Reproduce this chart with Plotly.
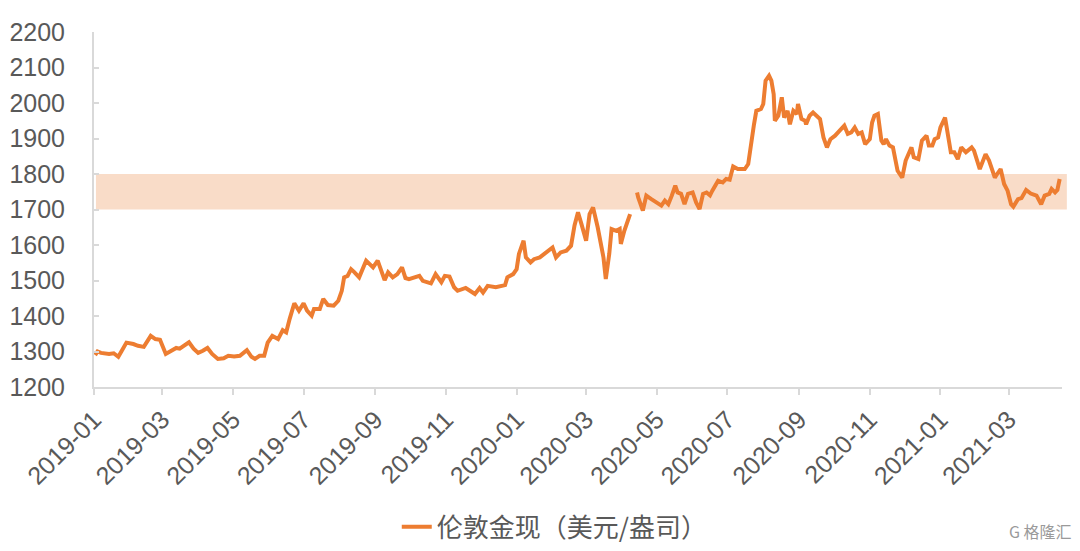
import plotly.graph_objects as go

dates = [
    "2019-01-02", "2019-01-04", "2019-01-07", "2019-01-09", "2019-01-14", "2019-01-18", "2019-01-22",
    "2019-01-25", "2019-01-29", "2019-02-04", "2019-02-08", "2019-02-13", "2019-02-19", "2019-02-23",
    "2019-02-27", "2019-03-04", "2019-03-08", "2019-03-13", "2019-03-16", "2019-03-19", "2019-03-24",
    "2019-03-28", "2019-04-01", "2019-04-05", "2019-04-09", "2019-04-13", "2019-04-18", "2019-04-23",
    "2019-04-27", "2019-05-02", "2019-05-07", "2019-05-13", "2019-05-17", "2019-05-20", "2019-05-24",
    "2019-05-28", "2019-05-31", "2019-06-04", "2019-06-09", "2019-06-13", "2019-06-16", "2019-06-19",
    "2019-06-23", "2019-06-27", "2019-07-01", "2019-07-04", "2019-07-08", "2019-07-10", "2019-07-15",
    "2019-07-18", "2019-07-22", "2019-07-27", "2019-07-31", "2019-08-03", "2019-08-05", "2019-08-08",
    "2019-08-11", "2019-08-14", "2019-08-18", "2019-08-24", "2019-08-27", "2019-08-30", "2019-09-03",
    "2019-09-06", "2019-09-09", "2019-09-12", "2019-09-16", "2019-09-20", "2019-09-24", "2019-09-27",
    "2019-09-30", "2019-10-09", "2019-10-12", "2019-10-19", "2019-10-23", "2019-10-28", "2019-10-31",
    "2019-11-04", "2019-11-08", "2019-11-11", "2019-11-18", "2019-11-26", "2019-11-30", "2019-12-03",
    "2019-12-07", "2019-12-14", "2019-12-22", "2019-12-24", "2019-12-29",
    "2020-01-01", "2020-01-03", "2020-01-07", "2020-01-09", "2020-01-13", "2020-01-16", "2020-01-21",
    "2020-01-26", "2020-02-01", "2020-02-04", "2020-02-08", "2020-02-13", "2020-02-17", "2020-02-20",
    "2020-02-23", "2020-02-26", "2020-03-01", "2020-03-04", "2020-03-07", "2020-03-11", "2020-03-14",
    "2020-03-16", "2020-03-18", "2020-03-21", "2020-03-23", "2020-03-27", "2020-03-30", "2020-03-31",
    "2020-04-03", "2020-04-06", "2020-04-08", "2020-04-10", "2020-04-14", "2020-04-15", "2020-04-19",
    "2020-04-22", "2020-04-26", "2020-04-30", "2020-05-05", "2020-05-08", "2020-05-11", "2020-05-14",
    "2020-05-17", "2020-05-19", "2020-05-22", "2020-05-25", "2020-05-28", "2020-06-01", "2020-06-04",
    "2020-06-07", "2020-06-10", "2020-06-13", "2020-06-16", "2020-06-18", "2020-06-23", "2020-06-27",
    "2020-06-30", "2020-07-03", "2020-07-06", "2020-07-10", "2020-07-16", "2020-07-19", "2020-07-22",
    "2020-07-24", "2020-07-26", "2020-07-30", "2020-08-01", "2020-08-03", "2020-08-06", "2020-08-08",
    "2020-08-10", "2020-08-11", "2020-08-14", "2020-08-17", "2020-08-19", "2020-08-22", "2020-08-24",
    "2020-08-27", "2020-08-30", "2020-08-31", "2020-09-03", "2020-09-06", "2020-09-07", "2020-09-10",
    "2020-09-13", "2020-09-16", "2020-09-19", "2020-09-22", "2020-09-25", "2020-09-28", "2020-10-02",
    "2020-10-06", "2020-10-10", "2020-10-13", "2020-10-16", "2020-10-19", "2020-10-22", "2020-10-25",
    "2020-10-28", "2020-11-01", "2020-11-03", "2020-11-05", "2020-11-08", "2020-11-11", "2020-11-13",
    "2020-11-15", "2020-11-18", "2020-11-21", "2020-11-24", "2020-11-25", "2020-11-29", "2020-12-02",
    "2020-12-07", "2020-12-09", "2020-12-13", "2020-12-16", "2020-12-20", "2020-12-22", "2020-12-25",
    "2020-12-27", "2020-12-30",
    "2021-01-01", "2021-01-05", "2021-01-07", "2021-01-10", "2021-01-13", "2021-01-16", "2021-01-19",
    "2021-01-23", "2021-01-28", "2021-01-30", "2021-02-04", "2021-02-06", "2021-02-09", "2021-02-12",
    "2021-02-17", "2021-02-19", "2021-02-22", "2021-02-25", "2021-02-28", "2021-03-03", "2021-03-05",
    "2021-03-09", "2021-03-12", "2021-03-16", "2021-03-20", "2021-03-25", "2021-03-29", "2021-04-01",
    "2021-04-05", "2021-04-07", "2021-04-10", "2021-04-12", "2021-04-14",
]

gold_price = [
    1290, 1300, 1296, 1295, 1293, 1295, 1285,
    1302, 1325, 1321, 1316, 1313, 1344, 1335,
    1333, 1293, 1300, 1310, 1308, 1316, 1326,
    1308, 1296, 1302, 1310, 1293, 1279, 1281,
    1288, 1286, 1288, 1304, 1285, 1279, 1288,
    1288, 1325, 1344, 1335, 1360, 1354, 1392,
    1436, 1415, 1436, 1415, 1401, 1420, 1420,
    1448, 1431, 1429, 1443, 1471, 1509, 1513,
    1532, 1523, 1509, 1556, 1546, 1537, 1556,
    1528, 1501, 1523, 1509, 1518, 1537, 1507,
    1504, 1513, 1499, 1492, 1518, 1495, 1513,
    1511, 1481, 1471, 1479, 1462, 1479, 1466,
    1485, 1481, 1487, 1509, 1518,
    1532, 1575, 1612, 1565, 1551, 1560, 1565,
    1579, 1593, 1565, 1579, 1584, 1598, 1655,
    1692, 1659, 1612, 1687, 1706, 1650, 1589,
    1565, 1504, 1575, 1645, 1640, 1645, 1603,
    1640, 1668, 1687, None, 1748, 1734, 1697,
    1739, 1730, 1720, 1711, 1725, 1715, 1739,
    1767, 1748, 1744, 1715, 1744, 1748, 1720,
    1701, 1744, 1748, 1740, 1753, 1781, 1776,
    1786, 1784, 1821, 1814, 1814, 1828, 1903,
    1940, 1978, 1983, 1997, 2063, 2077, 2063,
    2025, 1950, 1964, 2016, 1959, 1978, 1940,
    1978, 1969, 1997, 1955, 1950, 1940, 1964,
    1973, 1964, 1955, 1903, 1875, 1898, 1908,
    1922, 1936, 1913, 1917, 1931, 1913, 1917,
    1884, 1898, 1945, 1964, 1969, 1894, 1884,
    1898, 1880, 1875, 1828, 1809, 1790, 1838,
    1875, 1847, 1842, 1894, 1908, 1880, 1880,
    1898, 1903,
    1931, 1959, 1913, 1861, 1861, 1842, 1875,
    1861, 1875, 1866, 1814, 1833, 1856, 1838,
    1790, 1800, 1814, 1772, 1753, 1715, 1708,
    1729, 1732, 1755, 1745, 1739, 1715, 1739,
    1744, 1758, 1748, 1755, 1786,
]

series_name = "伦敦金现（美元/盎司）"
band_low, band_high = 1700, 1800
y_ticks = list(range(1200, 2201, 100))

ORANGE = "#ED7D31"
BAND = "#F9DCC8"
AXIS = "#D9D9D9"
TEXT = "#595959"
FONT = "Liberation Sans, Arial, Noto Sans CJK SC, sans-serif"

fig = go.Figure()
fig.add_trace(go.Scatter(
    x=dates, y=gold_price, mode="lines", name=series_name,
    line=dict(color=ORANGE, width=4), connectgaps=False,
))

fig.add_shape(type="rect", xref="paper", yref="y", x0=0.002, x1=1.005,
              y0=band_low, y1=band_high, fillcolor=BAND, line=dict(width=0), layer="below")

fig.add_annotation(text="G 格隆汇", xref="paper", yref="paper", x=1.012, y=-0.405,
                   showarrow=False, font=dict(family="Noto Sans CJK SC", size=16, color="#9A9A9A"),
                   xanchor="right", yanchor="middle")

fig.update_layout(
    width=1080, height=551,
    margin=dict(l=94, r=18, t=32, b=164, autoexpand=False),
    paper_bgcolor="white", plot_bgcolor="white",
    font=dict(family=FONT, size=25, color=TEXT),
    showlegend=True,
    legend=dict(orientation="h", x=0.476, xanchor="center", y=-0.394, yanchor="middle",
                font=dict(family="Noto Sans CJK SC, sans-serif", size=26, color=TEXT),
                bgcolor="rgba(0,0,0,0)"),
    xaxis=dict(
        type="date", range=["2019-01-01", "2021-04-16"], automargin=False,
        tick0="2019-01-01", dtick="M2", tickformat="%Y-%m", tickangle=-45,
        showgrid=False, zeroline=False,
        showline=True, linecolor=AXIS, linewidth=2,
        ticks="outside", ticklen=6, tickcolor=AXIS, tickwidth=1.5,
        tickfont=dict(family=FONT, size=25, color=TEXT),
    ),
    yaxis=dict(
        range=[1200, 2200], tickvals=y_ticks, automargin=False,
        showgrid=False, zeroline=False,
        showline=True, linecolor=AXIS, linewidth=2,
        ticks="inside", ticklen=5, tickcolor=AXIS, tickwidth=1.5,
        tickfont=dict(family=FONT, size=25, color=TEXT),
        ticklabelstandoff=22,
    ),
)

fig.write_html("out.html", config={"displayModeBar": False},
               post_script="document.body.style.margin='0';")
